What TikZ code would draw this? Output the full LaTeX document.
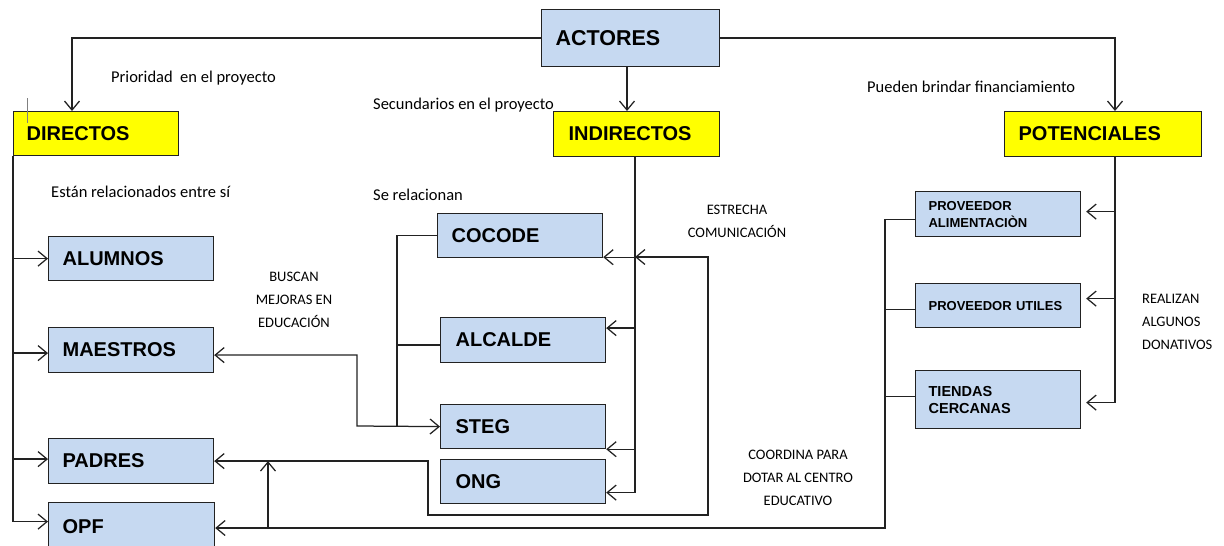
\documentclass[tikz,border=0pt]{standalone}
\usepackage{fontspec}
\setmainfont{Liberation Sans}
\newfontfamily\calfont{Carlito}
\usetikzlibrary{arrows.meta}
\definecolor{boxblue}{HTML}{C6D9F1}
\definecolor{ybox}{HTML}{FFFF00}
\definecolor{edge}{HTML}{222222}
\begin{document}
\begin{tikzpicture}[x=1pt,y=-1pt,
 ln/.style={draw=edge,line width=1.25pt},
 arr/.style={ln,-{Straight Barb[length=9pt,width=15pt]}},
 dar/.style={ln,{Straight Barb[length=9pt,width=15pt]}-{Straight Barb[length=9pt,width=15pt]}},
 boxbase/.style={draw=edge,line width=1.2pt,anchor=north west,align=left,inner ysep=0pt,font=\bfseries\fontsize{20}{22}\selectfont},
 bluebox/.style={boxbase,fill=boxblue},
 yelbox/.style={boxbase,fill=ybox},
 smallbox/.style={bluebox,font=\bfseries\fontsize{13}{17}\selectfont},
 note/.style={font=\calfont\fontsize{16.5}{19}\selectfont,inner sep=0pt,anchor=west},
 caps/.style={font=\calfont\fontsize{14.5}{23}\selectfont,inner sep=0pt,align=center},
]
\useasboundingbox (0,0) rectangle (1224,546);
% boxes
\node[bluebox,font=\bfseries\fontsize{21.5}{23}\selectfont,minimum height=57pt,inner xsep=14pt,text width=150pt] (ACTORES) at (541,9) {ACTORES};
\node[yelbox,minimum height=44pt,inner xsep=13pt,text width=139pt] (DIRECTOS) at (13,111) {DIRECTOS};
\node[yelbox,minimum height=45pt,inner xsep=15pt,text width=136pt] (INDIRECTOS) at (553,111) {INDIRECTOS};
\node[yelbox,minimum height=45pt,inner xsep=14pt,text width=169pt] (POTENCIALES) at (1004,111) {POTENCIALES};
\node[bluebox,minimum height=44pt,inner xsep=14pt,text width=137pt] (ALUMNOS) at (48,236) {ALUMNOS};
\node[bluebox,minimum height=45pt,inner xsep=14pt,text width=137pt] (MAESTROS) at (48,327) {MAESTROS};
\node[bluebox,minimum height=45pt,inner xsep=14pt,text width=137pt] (PADRES) at (48,438) {PADRES};
\node[bluebox,minimum height=48pt,inner xsep=14pt,text width=138pt] (OPF) at (48,502) {OPF};
\node[bluebox,minimum height=44pt,inner xsep=14pt,text width=137pt] (COCODE) at (437,213) {COCODE};
\node[bluebox,minimum height=45pt,inner xsep=15pt,text width=135pt] (ALCALDE) at (440,317) {ALCALDE};
\node[bluebox,minimum height=44pt,inner xsep=15pt,text width=135pt] (STEG) at (440,404) {STEG};
\node[bluebox,minimum height=44pt,inner xsep=15pt,text width=135pt] (ONG) at (440,459) {ONG};
\node[smallbox,minimum height=45pt,inner xsep=13pt,text width=139pt] (PA) at (915,191) {PROVEEDOR\\ALIMENTACIÒN};
\node[smallbox,minimum height=44pt,inner xsep=13pt,text width=139pt] (PU) at (915,283) {PROVEEDOR UTILES};
\node[smallbox,font=\bfseries\fontsize{14.5}{17}\selectfont,minimum height=58pt,inner xsep=13pt,text width=139pt] (TI) at (915,370) {TIENDAS\\CERCANAS};
% labels
\node[note] (n1) at (111,78) {Prioridad\ \ en el proyecto};
\node[note] (n2) at (373,105) {Secundarios en el proyecto};
\node[note] (n3) at (867,87) {Pueden brindar financiamiento};
\node[note] (n4) at (51,192) {Están relacionados entre sí};
\node[note] (n5) at (373,195) {Se relacionan};
\node[caps] (n6) at (737,221) {ESTRECHA\\COMUNICACIÓN};
\node[caps] (n7) at (294,300) {BUSCAN\\MEJORAS EN\\EDUCACIÓN};
\node[caps] (n8) at (798,478) {COORDINA PARA\\DOTAR AL CENTRO\\EDUCATIVO};
\node[caps,align=left,anchor=west] (n9) at (1142,322) {REALIZAN\\ALGUNOS\\DONATIVOS};
% top connectors
\coordinate (aS) at ([xshift=86pt]ACTORES.south west);
\draw[arr] (ACTORES.west) -| ([xshift=59pt]DIRECTOS.north west);
\draw[arr] (ACTORES.east) -| ([xshift=111pt]POTENCIALES.north west);
\draw[arr] (aS) -- (aS |- INDIRECTOS.north);
\draw[gray,line width=0.6pt] (27,98) -- (27,123);
% left trunk
\coordinate (dS) at (DIRECTOS.south west);
\coordinate (oW) at ([yshift=5pt]OPF.west);
\coordinate (mW) at ([yshift=-3pt]MAESTROS.west);
\coordinate (pW) at ([yshift=2pt]PADRES.west);
\draw[arr] (dS) |- (oW);
\draw[arr] (dS |- ALUMNOS.west) -- (ALUMNOS.west);
\draw[arr] (dS |- mW) -- (mW);
\draw[arr] (dS |- pW) -- (pW);
% middle trunk
\coordinate (iS) at ([xshift=82pt]INDIRECTOS.south west);
\coordinate (oE) at ([yshift=-11pt]ONG.east);
\coordinate (cE) at ([yshift=1pt]COCODE.south east);
\coordinate (alE) at ([yshift=12pt]ALCALDE.east);
\draw[arr] (iS) |- (oE);
\draw[arr] (iS |- cE) -- (cE);
\draw[arr] (iS |- alE) -- (alE);
\draw[arr] (iS |- STEG.south east) -- (STEG.south east);
% estrecha comunicacion loop
\coordinate (eT) at (708,257);
\draw[dar] (PADRES.east) -| (428,515) -| (eT) -- (iS |- eT);
% maestros - steg and bracket
\coordinate (bx) at (397,426);
\coordinate (mE) at ([yshift=-5pt]MAESTROS.east);
\draw[dar] (mE) -| (357,426) -- (STEG.west);
\draw[ln] (COCODE.west) -| (bx);
\coordinate (alW) at ([yshift=-5pt]ALCALDE.west);
\draw[ln] (alW) -- (bx |- alW);
% potenciales trunk
\coordinate (pS) at ([xshift=111pt]POTENCIALES.south west);
\coordinate (paE) at ([yshift=2.5pt]PA.east);
\coordinate (puE) at ([yshift=7pt]PU.east);
\coordinate (tE) at ([yshift=-3pt]TI.east);
\draw[ln] (pS) -- (pS |- tE);
\draw[arr,shorten >=5pt] (pS |- paE) -- (paE);
\draw[arr,shorten >=5pt] (pS |- puE) -- (puE);
\draw[arr,shorten >=5pt] (pS |- tE) -- (tE);
% coordina loop to OPF
\coordinate (paW) at ([yshift=-5.5pt]PA.west);
\coordinate (puW) at ([yshift=-4pt]PU.west);
\coordinate (tW) at ([yshift=3pt]TI.west);
\coordinate (oq) at (885,528);
\draw[arr] (paW) -| (oq) -- (OPF.east |- oq);
\draw[ln] (puW) -- (oq |- puW);
\draw[ln] (tW) -- (oq |- tW);
\coordinate (up) at (268,528);
\draw[arr] (up) -- (up |- PADRES.east);
\end{tikzpicture}
\end{document}
